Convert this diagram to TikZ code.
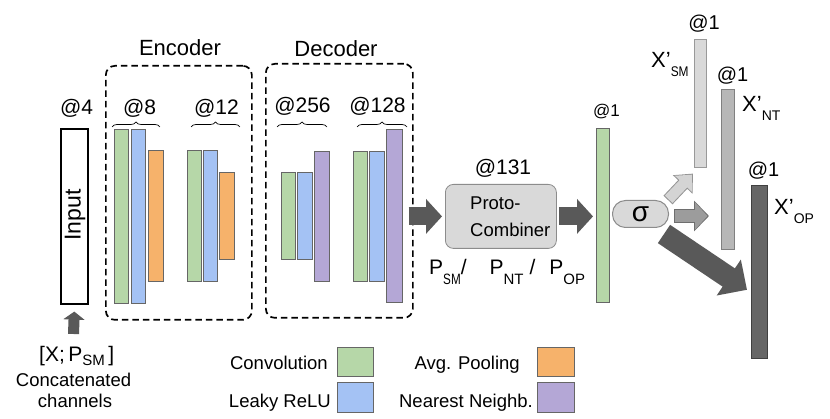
\documentclass[tikz,border=0pt]{standalone}
\usepackage{fontspec}
\usepackage{graphicx}
\setmainfont{Liberation Sans}
\usetikzlibrary{arrows.meta,decorations.pathreplacing,calc}
\definecolor{cgreen}{HTML}{B6D7A8}
\definecolor{cblue}{HTML}{A4C2F4}
\definecolor{corange}{HTML}{F6B26B}
\definecolor{cpurple}{HTML}{B4A7D6}
\definecolor{darkarrow}{HTML}{595959}
\definecolor{lgray}{HTML}{D9D9D9}
\definecolor{mgray}{HTML}{B7B7B7}
\definecolor{dgray}{HTML}{666666}
\definecolor{arrlight}{HTML}{D4D4D4}
\definecolor{arrmid}{HTML}{9C9C9C}
\newcommand\fsz[1]{\fontsize{#1}{#1}\selectfont}
\newcommand\psub[2][1]{\raisebox{-10pt}{\fontsize{15}{15}\selectfont\scalebox{#1}[1]{#2}}}
\newcommand\xsub[2][1]{\raisebox{-9pt}{\fontsize{14}{14}\selectfont\scalebox{#1}[1]{#2}}}
\newcommand\isub[1]{\raisebox{-3.5pt}{\fontsize{15}{15}\selectfont #1}}
\begin{document}
\begin{tikzpicture}[x=1pt,y=-1pt,
  lay/.style={draw=black!60, line width=0.6pt, inner sep=0pt, anchor=north west},
  dbox/.style={draw=black, line width=1.7pt, dash pattern=on 6.5pt off 4pt, rounded corners=9pt, inner sep=0pt, anchor=north west},
  lbl/.style={font=\fsz{21}, inner sep=0pt},
  txt/.style={font=\fsz{18.5}, inner sep=0pt},
  brc/.style={decorate, decoration={brace, amplitude=5pt}, line width=0.7pt},
  darr/.style n args={3}{draw=darkarrow, line width=#1, -{Triangle[width=#2, length=#3]}},
]
\fill[white] (0,0) rectangle (830,419);
\useasboundingbox (0,0) rectangle (830,419);

% ---------- input ----------
\node[lay, draw=black, line width=1.6pt, fill=white, minimum width=27pt, minimum height=175pt] (inp) at (60,128) {};
\node[rotate=90, font=\fsz{23}, inner sep=0pt] (inptxt) at (75,215) {Input};
\node[lbl, anchor=base] (at4) at (76.5,115) {@4};
\coordinate (inarr) at (73.5,334);
\draw[darr={11pt}{21pt}{8pt}] (inarr) -- ($(inp.south)+(0,7)$);
\node[lbl, anchor=base west] (xin) at (39,362) {[X;\,P\isub{SM}\,]};
\node[txt, anchor=base] (concat) at (73.5,387) {Concatenated};
\node[txt, anchor=base] (chan) at (75,408) {channels};

% ---------- encoder ----------
\node[dbox, minimum width=146pt, minimum height=254pt] (enc) at (105,65) {};
\node[lbl, font=\fsz{22}, anchor=base] (enctxt) at (180,56) {Encoder};
\node[lay, fill=cgreen, minimum width=14pt, minimum height=174pt] (e1c) at (114,129) {};
\node[lay, fill=cblue,  minimum width=14pt, minimum height=174pt] (e1r) at (131,129) {};
\node[lay, fill=corange, minimum width=15pt, minimum height=131pt] (e1p) at (148,150) {};
\node[lay, fill=cgreen, minimum width=14pt, minimum height=131pt] (e2c) at (187,150) {};
\node[lay, fill=cblue,  minimum width=14pt, minimum height=131pt] (e2r) at (203,150) {};
\node[lay, fill=corange, minimum width=15pt, minimum height=87pt] (e2p) at (219,172) {};
\draw[brc] (112,127) -- (160,127);
\draw[brc] (191,127) -- (240,127);
\node[lbl, anchor=base] (at8) at (139.5,115) {@8};
\node[lbl, anchor=base] (at12) at (216.5,115) {@12};

% ---------- decoder ----------
\node[dbox, minimum width=147pt, minimum height=254pt] (dec) at (265,63) {};
\node[lbl, font=\fsz{22}, anchor=base] (dectxt) at (336,57) {Decoder};
\node[lay, fill=cgreen, minimum width=14pt, minimum height=87pt] (d1c) at (281,172) {};
\node[lay, fill=cblue,  minimum width=15pt, minimum height=87pt] (d1r) at (297,172) {};
\node[lay, fill=cpurple, minimum width=15pt, minimum height=130pt] (d1u) at (314,151) {};
\node[lay, fill=cgreen, minimum width=14pt, minimum height=130pt] (d2c) at (353,151) {};
\node[lay, fill=cblue,  minimum width=15pt, minimum height=130pt] (d2r) at (369,151) {};
\node[lay, fill=cpurple, minimum width=16pt, minimum height=173pt] (d2u) at (386,129) {};
\draw[brc] (277,127) -- (327,127);
\draw[brc] (357,127) -- (407,127);
\node[lbl, anchor=base] (at256) at (302.5,113) {@256};
\node[lbl, anchor=base] (at128) at (377.5,113) {@128};

% ---------- proto-combiner ----------
\node[lay, draw=black!45, fill=lgray, rounded corners=8pt, line width=0.8pt, minimum width=111pt, minimum height=64pt] (pc) at (445,184) {};
\node[txt, anchor=base west] (pct1) at (470,210) {Proto-};
\node[txt, anchor=base west] (pct2) at (470,237) {Combiner};
\node[lbl, anchor=base] (at131) at (503,175) {@131};
\node[lbl, anchor=base west] (plab) at (429,275) {P\psub[0.78]{SM}/\hspace{23pt}P\psub{NT}\hspace{6pt}/\hspace{14pt}P\psub{OP}};
\draw[darr={18pt}{34pt}{16pt}] ($(dec.east |- pc.west)+(-5,0)$) -- ($(pc.west)+(-3,0)$);

% ---------- output ----------
\node[lay, fill=cgreen, minimum width=13pt, minimum height=174pt] (og) at (596,128) {};
\node[lbl, font=\fsz{17}, anchor=base] (at1a) at (606.5,117) {@1};
\draw[darr={18pt}{34pt}{16pt}] ($(pc.east)+(2,0)$) -- ($(og.west |- pc.east)+(-3,0)$);

\node[lay, draw=black!45, fill=lgray, rounded corners=13pt, line width=1pt, minimum width=56pt, minimum height=27pt, font=\fsz{28}] (sig) at (612,200) {σ};

\node[lay, draw=black!40, fill=lgray, minimum width=12pt, minimum height=128pt] (xsm) at (694,39) {};
\node[lay, draw=black!50, fill=mgray, minimum width=13pt, minimum height=160pt] (xnt) at (721,89) {};
\node[lay, draw=black!75, fill=dgray, minimum width=16pt, minimum height=173pt] (xop) at (751,185) {};
\node[lbl, font=\fsz{20}, anchor=base] (at1b) at (704,30) {@1};
\node[lbl, font=\fsz{20}, anchor=base] (at1c) at (732.5,82) {@1};
\node[lbl, font=\fsz{20}, anchor=base] (at1d) at (763.5,177) {@1};
\node[lbl, font=\fsz{22}, anchor=base west] (xsmlab) at (651,68) {X’\xsub[0.85]{SM}};
\node[lbl, font=\fsz{22}, anchor=base west] (xntlab) at (742,112) {X’\xsub{NT}};
\node[lbl, font=\fsz{22}, anchor=base west] (xoplab) at (774,215) {X’\xsub{OP}};

% sigma -> X'_SM (outlined light)
\draw[draw=black!42, line width=12.5pt, -{Triangle[width=26pt,length=15pt]}]
  ($(sig.north east)+(-1,0)$) -- ($(xsm.south west)+(-1,6)$);
\draw[draw=arrlight, line width=10.5pt, shorten >=1.5pt, shorten <=1pt, -{Triangle[width=22.5pt,length=12.5pt]}]
  ($(sig.north east)+(-1,0)$) -- ($(xsm.south west)+(-1,6)$);
% sigma -> X'_NT (outlined mid)
\draw[draw=black!57, line width=14pt, -{Triangle[width=30pt,length=15pt]}]
  ($(sig.east)+(5,2)$) -- ($(xnt.west |- sig.east)+(-12,2)$);
\draw[draw=arrmid, line width=12pt, shorten >=1.5pt, shorten <=1pt, -{Triangle[width=26.5pt,length=12.5pt]}]
  ($(sig.east)+(5,2)$) -- ($(xnt.west |- sig.east)+(-12,2)$);
% sigma -> X'_OP (dark, large)
\draw[darr={22pt}{42pt}{22pt}] ($(sig.south east)+(-5,6)$) -- ($(xop.west)+(-4,18)$);

% ---------- legend ----------
\node[lay, fill=cgreen, minimum width=36pt, minimum height=29pt] (lconv) at (337,347) {};
\node[lay, fill=cblue, minimum width=36pt, minimum height=30pt] (lrelu) at (337,382) {};
\node[lay, fill=corange, minimum width=37pt, minimum height=29pt] (lpool) at (537,347) {};
\node[lay, fill=cpurple, minimum width=37pt, minimum height=30pt] (lnn) at (537,382) {};
\node[txt, anchor=base east] (tconv) at (328,370) {Convolution};
\node[txt, anchor=base east] (trelu) at (331,408) {Leaky ReLU};
\node[txt, anchor=base east] (tpool) at (520,370) {Avg. Pooling};
\node[txt, anchor=base east] (tnn) at (533,408) {Nearest Neighb.};
\end{tikzpicture}
\end{document}
